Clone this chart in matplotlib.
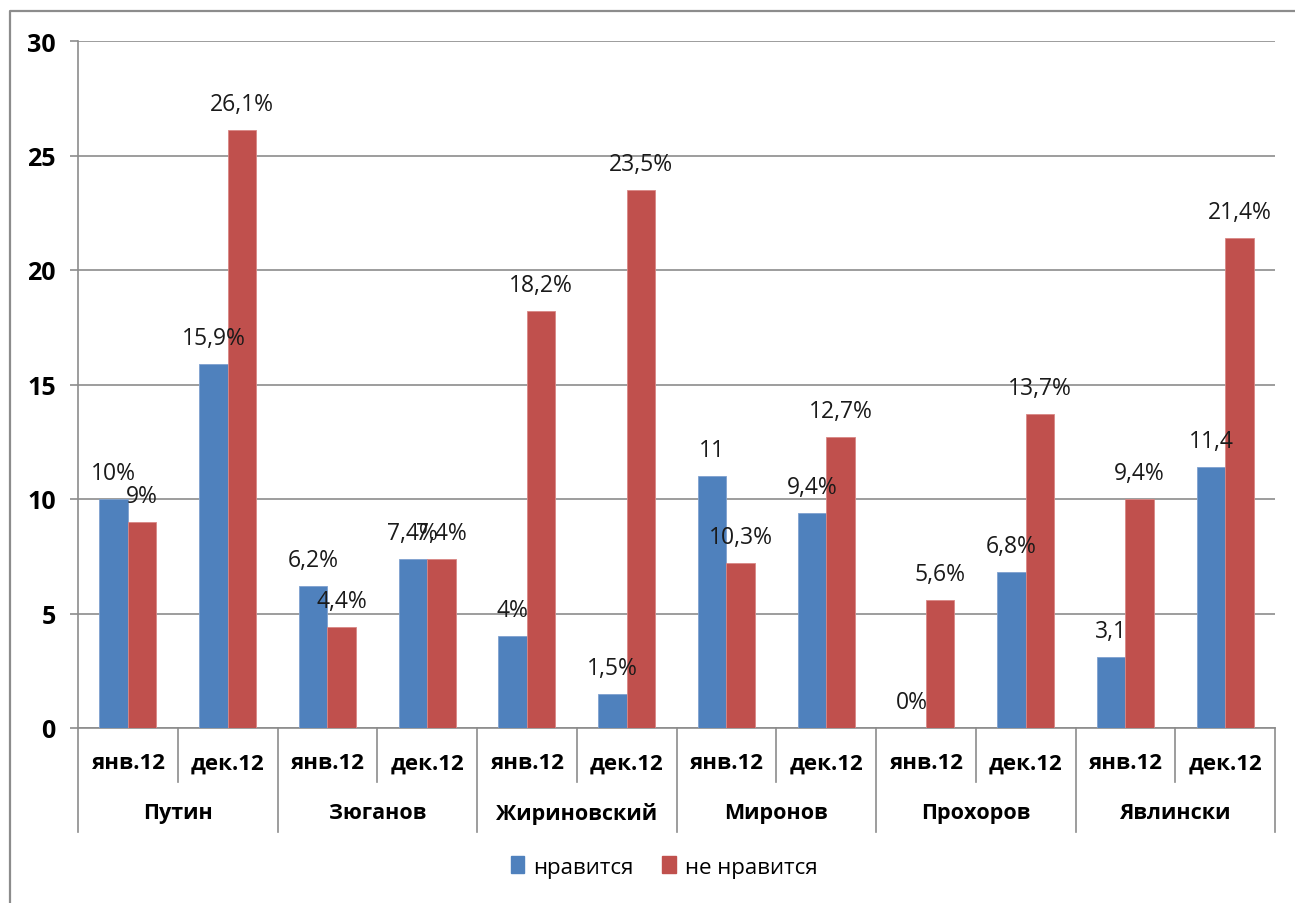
import matplotlib
matplotlib.use("Agg")
import matplotlib.pyplot as plt
from matplotlib.lines import Line2D
from matplotlib.transforms import blended_transform_factory

# ---- data ----
candidates = ["Путин", "Зюганов", "Жириновский", "Миронов", "Прохоров", "Явлински"]
periods = ["янв.12", "дек.12"]
series_names = ["нравится", "не нравится"]
like_values = [10, 15.9, 6.2, 7.4, 4, 1.5, 11, 9.4, 0, 6.8, 3.1, 11.4]
dislike_values = [9, 26.1, 4.4, 7.4, 18.2, 23.5, 7.2, 12.7, 5.6, 13.7, 10, 21.4]
like_labels = ["10%", "15,9%", "6,2%", "7,4%", "4%", "1,5%", "11", "9,4%", "0%", "6,8%", "3,1", "11,4"]
dislike_labels = ["9%", "26,1%", "4,4%", "7,4%", "18,2%", "23,5%", "10,3%", "12,7%", "5,6%", "13,7%", "9,4%", "21,4%"]
y_ticks = [0, 5, 10, 15, 20, 25, 30]

W, H = 1295, 904
fig = plt.figure(figsize=(W / 100, H / 100), dpi=100)
fig.patch.set_facecolor("white")

def fx(px):
    return px / W

def fy(py):
    return 1 - py / H

ax = fig.add_axes([fx(78), fy(729), fx(1275) - fx(78), fy(42) - fy(729)])

BLUE = "#4F81BD"
RED = "#C0504D"
GRID = "#8C8C8C"
FONT = "Open Sans"

n = len(like_values)
xs = list(range(n))
bw = 0.286
ax.bar([x - bw / 2 for x in xs], like_values, width=bw, color=BLUE, edgecolor="#7FA1CF", linewidth=0.6, zorder=3)
ax.bar([x + bw / 2 for x in xs], dislike_values, width=bw, color=RED, edgecolor="#D98785", linewidth=0.6, zorder=3)

off = 26 * 0.72
for x, v, t in zip(xs, like_values, like_labels):
    ax.annotate(t, (x - bw / 2, v), xytext=(0, off), textcoords="offset points",
                ha="center", va="center", fontsize=16.5, family=FONT, color="#1a1a1a", zorder=5)
for x, v, t in zip(xs, dislike_values, dislike_labels):
    ax.annotate(t, (x + bw / 2, v), xytext=(0, off), textcoords="offset points",
                ha="center", va="center", fontsize=16.5, family=FONT, color="#1a1a1a", zorder=5)

ax.set_xlim(-0.5, n - 0.5)
ax.set_ylim(0, 30)
ax.set_yticks(y_ticks)
ax.set_yticklabels([str(t) for t in y_ticks], fontsize=18, fontweight="bold", family=FONT)
ax.tick_params(axis="y", length=6, width=1.2, color=GRID, pad=10)
ax.set_xticks([])
ax.yaxis.grid(True, color=GRID, linewidth=1.2, zorder=0)
ax.set_axisbelow(True)
for s in ["top", "right"]:
    ax.spines[s].set_visible(False)
for s in ["left", "bottom"]:
    ax.spines[s].set_color(GRID)
    ax.spines[s].set_linewidth(1.2)

# multi-level category axis
tr = blended_transform_factory(ax.transData, fig.transFigure)
for i in range(n):
    ax.text(i, fy(764), periods[i % 2], transform=tr, ha="center", va="center",
            fontsize=16, fontweight="bold", family=FONT)
for g, name in enumerate(candidates):
    ax.text(2 * g + 0.5, fy(814), name, transform=tr, ha="center", va="center",
            fontsize=15.5, fontweight="bold", family=FONT)
for b in range(n + 1):
    xb = b - 0.5
    y_end = fy(833) if b % 2 == 0 else fy(783)
    fig.add_artist(Line2D([xb, xb], [fy(729), y_end], transform=tr, color=GRID, linewidth=1.2, clip_on=False))

# legend
handles = [plt.Rectangle((0, 0), 1, 1, color=BLUE), plt.Rectangle((0, 0), 1, 1, color=RED)]
fig.legend(handles, series_names, loc="center", bbox_to_anchor=(fx(664), fy(868)), ncol=2, frameon=False,
           prop={"family": FONT, "size": 16}, handlelength=0.6, handleheight=0.8, handletextpad=0.4,
           columnspacing=1.3)

# outer chart border
fig.add_artist(Line2D([fx(10), fx(10), fx(1300)], [fy(910), fy(12), fy(12)], transform=fig.transFigure,
                      color="#8C8C8C", linewidth=1.6))

fig.savefig("out.png", dpi=100)
